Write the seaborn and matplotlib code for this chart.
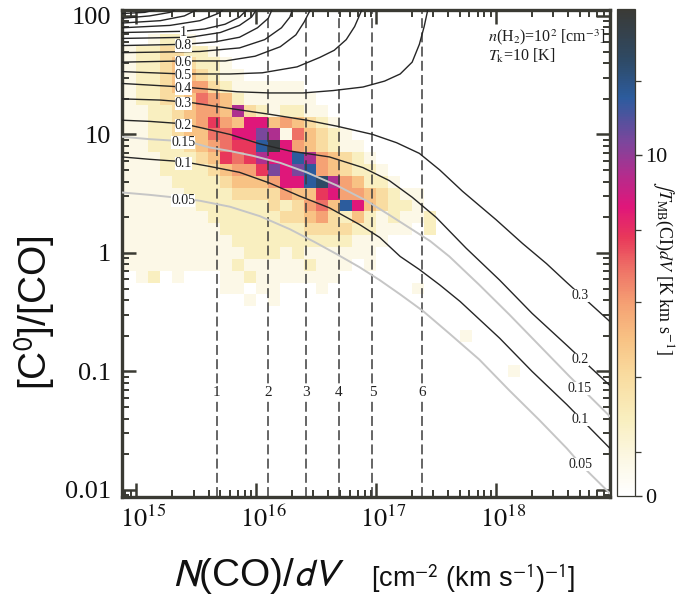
import numpy as np
import matplotlib
matplotlib.use("Agg")
import matplotlib.pyplot as plt
import seaborn as sns
from matplotlib.colors import LinearSegmentedColormap, Normalize
from matplotlib.cm import ScalarMappable
from matplotlib.ticker import FixedLocator, NullFormatter, LogLocator
from matplotlib.transforms import ScaledTranslation

# ---------------------------------------------------------------------------
# 2-D histogram of integrated CI intensity in 0.1 dex bins
# columns start at log10 N(CO)/dV = 14.9 ; rows are centred on log10 [C0]/[CO]
# ---------------------------------------------------------------------------
col_logN_start = 14.9
bin_dex = 0.1
row_logR_top = 1.8
cell_rows = [
    "..1221",
    "12233221",
    "122343221",
    "1223443211",
    "122345532111111",
    "1223346542111111",
    "11223455493212211",
    "112234575488454321",
    "11223446688P9164321",
    "11222345677BK8543211",
    "11122234767988B954321",
    "111222234557P8PB543221",
    "111122223444588BD954221",
    "1111122223333544785543211",
    "111111222222323564B843221",
    "11111112222223345324212112",
    "111111112222222333322111.2",
    "1111111112222222222111",
    "111111111122212111111",
    "1111111112111112111.1",
    ".12.1...1121111111",
    "........11.11...1.......1",
    "..........1.1",
]
# isolated bins far from the main band (left bin edge, bin centre)
sparse_logN = [17.7, 18.1]
sparse_logR = [-0.7, -1.0]
sparse_code = ["1", "1"]
# intensity attached to each shade code [K km/s]
cell_level = {".": 0.0, "1": 1.0, "2": 2.2, "3": 3.5, "4": 4.6, "5": 5.6,
              "6": 6.7, "7": 7.6, "8": 8.5, "9": 9.5, "P": 10.4, "B": 11.7,
              "D": 12.8, "K": 14.0}

# colour scale of the intensity
cbar_vmax = 14.3
cmap_values = [0.0, 1.0, 2.2, 3.5, 4.6, 5.6, 6.7, 7.6, 8.5, 9.5, 10.4, 11.7, 12.8, 14.3]
cmap_colors = ["#ffffff", "#fcf8e6", "#f9efc0", "#f9dca0", "#f8c284", "#f5a274",
               "#ee7066", "#e8385a", "#e0167a", "#b02e8e", "#7c469c", "#2c5c9e",
               "#2e4a66", "#3a3a36"]
cbar_ticks = [0, 10]
cbar_minor = [1.3, 3.5, 5.7, 7.8, 12.2]

# ---------------------------------------------------------------------------
# model curves of constant line ratio (log10 N(CO)/dV, log10 [C0]/[CO])
# ---------------------------------------------------------------------------
c005_logN = [14.88, 15.11, 15.30, 15.53, 15.78, 16.03, 16.28, 16.49, 16.67, 16.86,
             17.03, 17.20, 17.39, 17.61, 17.86, 18.11, 18.36, 18.59, 18.72, 18.95]
c005_logR = [0.51, 0.49, 0.47, 0.44, 0.39, 0.31, 0.20, 0.09, -0.01, -0.12,
             -0.23, -0.35, -0.49, -0.68, -0.90, -1.16, -1.41, -1.65, -1.80, -2.03]
c010_logN = [14.88, 15.11, 15.39, 15.61, 15.86, 16.11, 16.36, 16.61, 16.86, 17.03,
             17.20, 17.36, 17.53, 17.70, 18.03, 18.30, 18.59, 18.95]
c010_logR = [0.81, 0.79, 0.77, 0.73, 0.68, 0.59, 0.48, 0.38, 0.24, 0.13,
             -0.03, -0.14, -0.27, -0.41, -0.72, -1.00, -1.28, -1.65]
c015_logN = [14.88, 15.11, 15.43, 15.61, 15.78, 15.97, 16.20, 16.42, 16.67, 16.92,
             17.11, 17.28, 17.45, 17.61, 17.86, 18.11, 18.36, 18.61, 18.95]
c015_logR = [0.98, 0.96, 0.94, 0.89, 0.86, 0.82, 0.76, 0.68, 0.57, 0.44,
             0.32, 0.21, 0.10, -0.03, -0.27, -0.52, -0.78, -1.04, -1.38]
c020_logN = [14.88, 15.11, 15.39, 15.61, 15.78, 16.03, 16.28, 16.61, 16.89, 17.11,
             17.30, 17.50, 17.75, 18.03, 18.30, 18.59, 18.95]
c020_logR = [1.12, 1.11, 1.09, 1.04, 1.00, 0.92, 0.86, 0.81, 0.72, 0.61,
             0.47, 0.30, 0.04, -0.23, -0.51, -0.78, -1.12]
c030_logN = [14.88, 15.20, 15.45, 15.84, 16.11, 16.42, 16.67, 16.97, 17.17, 17.36,
             17.53, 17.72, 18.00, 18.22, 18.42, 18.59, 18.95]
c030_logR = [1.30, 1.29, 1.27, 1.21, 1.17, 1.12, 1.07, 1.00, 0.93, 0.84,
             0.70, 0.52, 0.28, 0.08, -0.09, -0.25, -0.58]
c040_logN = [14.88, 15.39, 15.84, 16.11, 16.39, 16.64, 16.89, 17.07, 17.20, 17.30,
             17.36, 17.40, 17.43]
c040_logR = [1.43, 1.40, 1.36, 1.35, 1.35, 1.37, 1.40, 1.45, 1.51, 1.61,
             1.76, 1.91, 2.05]
c050_logN = [14.88, 15.39, 15.78, 16.05, 16.34, 16.53, 16.65, 16.75, 16.82, 16.88]
c050_logR = [1.53, 1.51, 1.51, 1.52, 1.57, 1.65, 1.71, 1.80, 1.91, 2.05]
c060_logN = [14.88, 15.39, 15.74, 15.99, 16.20, 16.33, 16.40, 16.45]
c060_logR = [1.61, 1.62, 1.62, 1.66, 1.74, 1.84, 1.95, 2.05]
c070_logN = [14.88, 15.53, 15.86, 16.07, 16.21, 16.28, 16.30]
c070_logR = [1.69, 1.70, 1.73, 1.80, 1.90, 1.99, 2.05]
c080_logN = [14.88, 15.39, 15.65, 15.86, 16.01, 16.10, 16.13]
c080_logR = [1.75, 1.76, 1.78, 1.82, 1.90, 1.98, 2.05]
c090_logN = [14.88, 15.45, 15.70, 15.86, 15.96, 16.00]
c090_logR = [1.81, 1.82, 1.86, 1.92, 1.99, 2.05]
c100_logN = [14.88, 15.39, 15.57, 15.74, 15.86, 15.92]
c100_logR = [1.86, 1.87, 1.89, 1.93, 1.99, 2.05]
c120_logN = [14.88, 15.28, 15.53, 15.68, 15.72]
c120_logR = [1.90, 1.92, 1.96, 2.02, 2.05]
c150_logN = [14.88, 15.20, 15.40, 15.50]
c150_logR = [1.94, 1.96, 2.00, 2.05]
c200_logN = [14.88, 15.11, 15.28, 15.32]
c200_logR = [1.98, 2.00, 2.03, 2.05]
c300_logN = [14.88, 15.07, 15.15]
c300_logR = [2.02, 2.03, 2.05]

# (label, logN, logR, grey?, labelled on the left, labelled on the right)
curves = [
    ("0.05", c005_logN, c005_logR, True, True, True),
    ("0.1", c010_logN, c010_logR, False, True, True),
    ("0.15", c015_logN, c015_logR, True, True, True),
    ("0.2", c020_logN, c020_logR, False, True, True),
    ("0.3", c030_logN, c030_logR, False, True, True),
    ("0.4", c040_logN, c040_logR, False, True, False),
    ("0.5", c050_logN, c050_logR, False, True, False),
    ("0.6", c060_logN, c060_logR, False, True, False),
    ("0.7", c070_logN, c070_logR, False, False, False),
    ("0.8", c080_logN, c080_logR, False, True, False),
    ("0.9", c090_logN, c090_logR, False, False, False),
    ("1", c100_logN, c100_logR, False, True, False),
    ("1.2", c120_logN, c120_logR, False, False, False),
    ("1.5", c150_logN, c150_logR, False, False, False),
    ("2", c200_logN, c200_logR, False, False, False),
    ("3", c300_logN, c300_logR, False, False, False),
]
label_logN_left = 15.39
label_logN_right = 18.70

# velocity-slice boundaries
slice_N = [4.7e15, 1.25e16, 2.6e16, 4.9e16, 9.3e16, 2.4e17]
slice_names = ["1", "2", "3", "4", "5", "6"]
slice_label_R = 0.066

x_ticks = [1e15, 1e16, 1e17, 1e18]
x_ticklabels = [r"$10^{15}$", r"$10^{16}$", r"$10^{17}$", r"$10^{18}$"]
y_ticks = [0.01, 0.1, 1, 10, 100]
y_ticklabels = ["0.01", "0.1", "1", "10", "100"]

# ---------------------------------------------------------------------------
sns.set_theme(style="ticks")
plt.rcParams["font.family"] = ["Liberation Serif", "DejaVu Serif"]
plt.rcParams["mathtext.fontset"] = "stix"
INK = "#3a3a33"
GREY = "#c6c6c6"
BLACK = "#262626"

W, H = 689, 602
fig = plt.figure(figsize=(W / 100, H / 100), dpi=100)
ax = fig.add_axes([122 / W, 1 - 497 / H, (610 - 122) / W, (497 - 10) / H])
ax.set_xscale("log")
ax.set_yscale("log")
ax.set_xlim(10 ** 14.88, 10 ** 18.95)
ax.set_ylim(10 ** -2.06, 10 ** 2.05)

# --- heat map ---------------------------------------------------------------
n_rows = int(round((row_logR_top + 1.0) / bin_dex)) + 1
n_cols = int(round((18.2 - col_logN_start) / bin_dex))
Z = np.zeros((n_rows, n_cols))
for i, row in enumerate(cell_rows):
    for j, ch in enumerate(row):
        Z[i, j] = cell_level[ch]
for lN, lR, code in zip(sparse_logN, sparse_logR, sparse_code):
    i = int(round((row_logR_top - lR) / bin_dex))
    j = int(round((lN - col_logN_start) / bin_dex))
    Z[i, j] = cell_level[code]
col_edges = col_logN_start + bin_dex * np.arange(n_cols + 1)
row_edges = row_logR_top + bin_dex / 2 - bin_dex * np.arange(n_rows + 1)

cmap = LinearSegmentedColormap.from_list(
    "ci", list(zip(np.array(cmap_values) / cbar_vmax, cmap_colors)))
norm = Normalize(0, cbar_vmax)
ax.pcolormesh(10 ** col_edges, 10 ** row_edges, np.ma.masked_where(Z <= 0, Z),
              cmap=cmap, norm=norm, shading="flat", zorder=0.5, linewidth=0)

# --- slice boundaries -------------------------------------------------------
for n, name in zip(slice_N, slice_names):
    ax.axvline(n, color="#3c3c3c", lw=1.1, ls=(0, (6.5, 2.8)), zorder=2)
    ax.text(n, slice_label_R, name, ha="center", va="center", fontsize=11,
            color="#222222", zorder=6,
            bbox=dict(boxstyle="square,pad=0.12", fc="white", ec="none"))

# --- model curves -----------------------------------------------------------
for name, lx, ly, grey, left_lab, right_lab in curves:
    lx = np.asarray(lx)
    ly = np.asarray(ly)
    sns.lineplot(x=10 ** lx, y=10 ** ly, sort=False, estimator=None,
                 color=GREY if grey else BLACK, lw=1.4 if grey else 1.0,
                 ax=ax, zorder=3)
    for use, pos in ((left_lab, label_logN_left), (right_lab, label_logN_right)):
        if not use:
            continue
        y_lab = np.interp(pos, lx, ly)
        ax.text(10 ** pos, 10 ** y_lab, name, ha="center", va="center_baseline",
                fontsize=10, color="#1e1e1e", zorder=6,
                bbox=dict(boxstyle="square,pad=0.0", fc="white", ec="none"))

# --- axes cosmetics ---------------------------------------------------------
ax.set_xticks(x_ticks)
ax.set_xticklabels(x_ticklabels)
ax.set_yticks(y_ticks)
ax.set_yticklabels(y_ticklabels)
ax.xaxis.set_minor_locator(LogLocator(base=10, subs=np.arange(2, 10), numticks=20))
ax.yaxis.set_minor_locator(LogLocator(base=10, subs=np.arange(2, 10), numticks=20))
ax.xaxis.set_minor_formatter(NullFormatter())
ax.yaxis.set_minor_formatter(NullFormatter())
ax.tick_params(which="both", direction="in", top=True, right=True, color=INK,
               labelcolor="#111111", labelsize=19)
ax.tick_params(which="major", length=10, width=1.8)
ax.tick_params(which="minor", length=5, width=1.4)
ax.tick_params(axis="x", pad=6)
ax.tick_params(axis="y", pad=8)
# decade labels sit a little to the right of their ticks
shift = ScaledTranslation(7 / 100, 0, fig.dpi_scale_trans)
for lab in ax.get_xticklabels():
    lab.set_transform(lab.get_transform() + shift)
for sp in ax.spines.values():
    sp.set_linewidth(2.4)
    sp.set_color(INK)
ax.set_xlabel("")
ax.set_ylabel("")

ax.text(0.75, 0.944, r"$n$(H$_2$)=10$^2$ [cm$^{-3}$]", transform=ax.transAxes,
        ha="left", va="center", fontsize=11.5, color="#1e1e1e")
ax.text(0.75, 0.905, r"$T_{\rm k}$=10 [K]", transform=ax.transAxes,
        ha="left", va="center", fontsize=11.5, color="#1e1e1e")

fig.text(35 / W, 1 - 313 / H, r"[C$^{0}$]/[CO]", rotation=90, ha="center",
         va="center", fontsize=28, family="Liberation Sans",
         math_fontfamily="stixsans", color="#111111")
fig.text(259 / W, 1 - 576 / H, r"$N$(CO)/$dV$", ha="center", va="center",
         fontsize=28, family="Liberation Sans", math_fontfamily="stixsans",
         color="#111111")
fig.text(473 / W, 1 - 578 / H, r"[cm$^{-2}$ (km s$^{-1}$)$^{-1}$]", ha="center",
         va="center", fontsize=19.5, family="Liberation Sans",
         math_fontfamily="stixsans", color="#111111")

# --- colour bar -------------------------------------------------------------
cax = fig.add_axes([617 / W, 1 - 496 / H, 18 / W, (496 - 9) / H])
cb = fig.colorbar(ScalarMappable(norm=norm, cmap=cmap), cax=cax)
cb.set_ticks(cbar_ticks)
cb.ax.set_yticklabels([str(t) for t in cbar_ticks])
cb.ax.yaxis.set_minor_locator(FixedLocator(cbar_minor))
cb.ax.tick_params(which="both", direction="out", color=INK, labelsize=16,
                  labelcolor="#111111", pad=2)
cb.ax.tick_params(which="major", length=5, width=1.0)
cb.ax.tick_params(which="minor", length=4, width=0.9)
cb.outline.set_linewidth(0.9)
cb.outline.set_edgecolor(INK)
fig.text(663 / W, 1 - 268 / H, r"$\int T_{\rm MB}$(CI)$dV$ [K km s$^{-1}$]",
         rotation=-90, ha="center", va="center", fontsize=13, color="#111111")

fig.savefig("out.png", dpi=100)
